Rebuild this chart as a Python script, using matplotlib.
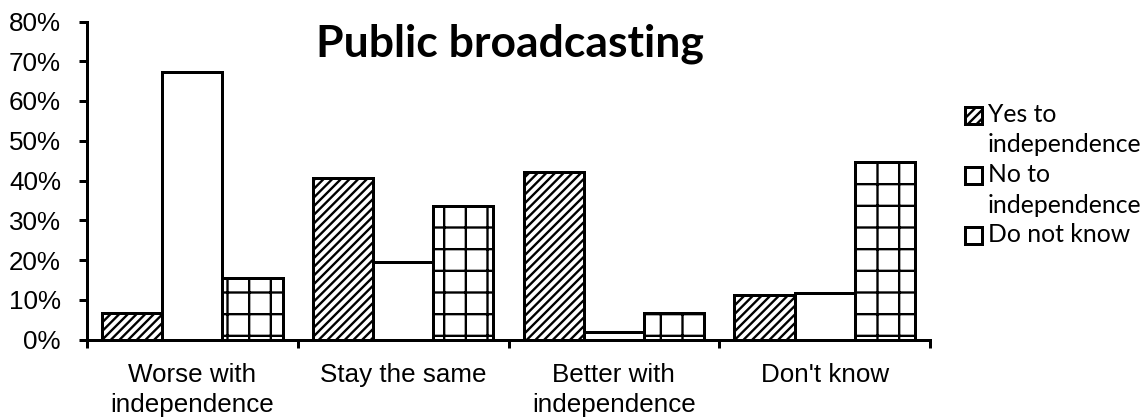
import matplotlib
matplotlib.use("Agg")
import matplotlib.pyplot as plt
import numpy as np
from matplotlib.patches import Rectangle

# data
categories = ["Worse with\nindependence", "Stay the same", "Better with\nindependence", "Don't know"]
series = ["Yes to\nindependence", "No to\nindependence", "Do not know"]
yes_vals = [6.6, 40.6, 42.2, 11.2]
no_vals = [67.4, 19.6, 2.0, 11.8]
dnk_vals = [15.4, 33.6, 6.6, 44.6]
y_ticks = [0, 10, 20, 30, 40, 50, 60, 70, 80]
hatches = ["/////", "", "+"]

DPI = 130
W, H = 1148, 419
pt = 72 / DPI  # one pixel in points

plt.rcParams["hatch.linewidth"] = 1.3

fig = plt.figure(figsize=(W / DPI, H / DPI), dpi=DPI)
ax = fig.add_axes([87 / W, 1 - 339.5 / H, (930 - 87) / W, (339.5 - 21.5) / H])

x = np.arange(len(categories))
bw = 0.2857
for i, vals in enumerate([yes_vals, no_vals, dnk_vals]):
    ax.bar(x + (i - 1) * bw, vals, bw, facecolor="white", edgecolor="black",
           linewidth=3 * pt, hatch=hatches[i], label=series[i])

ax.set_xlim(-0.5, len(categories) - 0.5)
ax.set_ylim(0, 80)

for s in ["top", "right"]:
    ax.spines[s].set_visible(False)
for s in ["left", "bottom"]:
    ax.spines[s].set_linewidth(3 * pt)

ax.set_xticks(x)
ax.set_xticklabels(categories, fontsize=26 * pt, family="Liberation Sans", linespacing=1.3)
ax.set_xticks(np.arange(-0.5, len(categories), 1), minor=True)
ax.tick_params(axis="x", which="major", length=0, pad=13)
ax.tick_params(axis="x", which="minor", length=8 * pt, width=3 * pt)

ax.set_yticks(y_ticks)
ax.set_yticklabels([f"{v}%" for v in y_ticks], fontsize=26 * pt, family="Liberation Sans")
ax.tick_params(axis="y", length=8 * pt, width=3 * pt, pad=18 * pt)

fig.text(509.5 / W, 1 - 57 / H, "Public broadcasting", ha="center", va="baseline",
         fontsize=44.5 * pt, fontweight="bold", family="Lato")

# legend built by hand so the box sits on the first text line
row = 115
for i, name in enumerate(series):
    fig.add_artist(Rectangle((965 / W, 1 - (row + 8.5) / H), 17 / W, 17 / H,
                             transform=fig.transFigure, facecolor="white",
                             edgecolor="black", linewidth=3 * pt, hatch=hatches[i]))
    for line in name.split("\n"):
        fig.text(988 / W, 1 - row / H, line, ha="left", va="center",
                 fontsize=24.8 * pt, family="Lato")
        row += 30

fig.savefig("out.png", dpi=DPI)
